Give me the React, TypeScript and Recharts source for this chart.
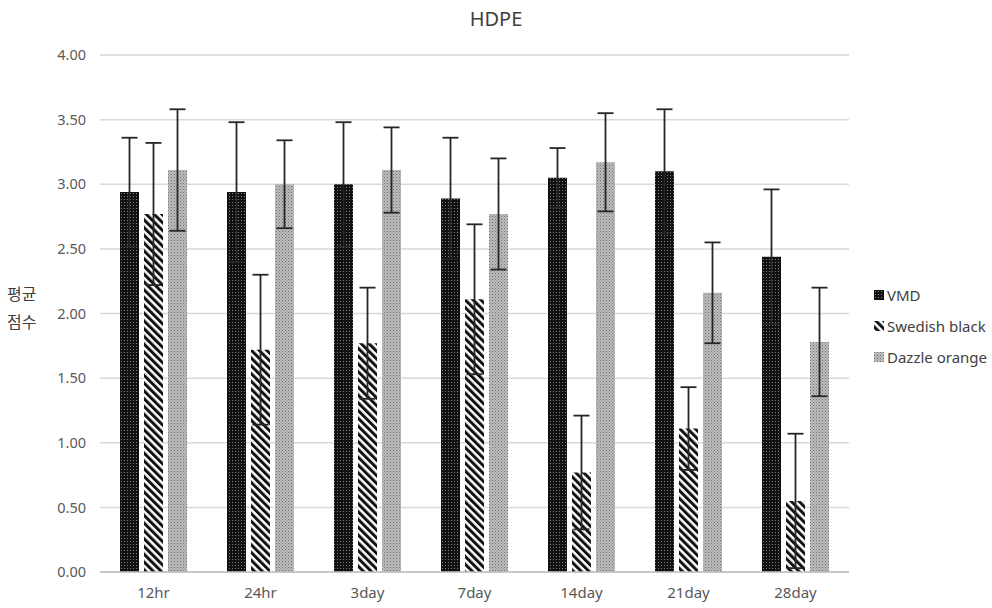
import React from 'react';
import { BarChart, Bar, XAxis, YAxis, CartesianGrid, ErrorBar, Legend } from 'recharts';

const categories = ['12hr', '24hr', '3day', '7day', '14day', '21day', '28day'];
const vmd = [2.94, 2.94, 3.0, 2.89, 3.05, 3.1, 2.44];
const vmdErr = [0.42, 0.54, 0.48, 0.47, 0.23, 0.48, 0.52];
const swedish = [2.77, 1.72, 1.77, 2.11, 0.77, 1.11, 0.55];
const swedishErr = [0.55, 0.58, 0.43, 0.58, 0.44, 0.32, 0.52];
const dazzle = [3.11, 3.0, 3.11, 2.77, 3.17, 2.16, 1.78];
const dazzleErr = [0.47, 0.34, 0.33, 0.43, 0.38, 0.39, 0.42];
const yTicks = [0, 0.5, 1, 1.5, 2, 2.5, 3, 3.5, 4];

const data = categories.map((c, i) => ({
  name: c,
  vmd: vmd[i],
  vmdErr: vmdErr[i],
  swedish: swedish[i],
  swedishErr: swedishErr[i],
  dazzle: dazzle[i],
  dazzleErr: dazzleErr[i],
}));

const FONT = '"Noto Sans", "Noto Sans CJK KR", sans-serif';

const legendItems = [
  { label: 'VMD', fill: 'url(#patVmd)' },
  { label: 'Swedish black', fill: 'url(#patSwe)' },
  { label: 'Dazzle orange', fill: 'url(#patDaz)' },
];

function LegendContent() {
  return (
    <div style={{ fontFamily: FONT, fontSize: 15, color: '#404040' }}>
      {legendItems.map((it) => (
        <div key={it.label} style={{ display: 'flex', alignItems: 'center', height: 31 }}>
          <svg width={10} height={10} style={{ marginRight: 3 }}>
            <rect x={0} y={0} width={10} height={10} fill={it.fill} />
          </svg>
          <span>{it.label}</span>
        </div>
      ))}
    </div>
  );
}

export default function App() {
  return (
    <div style={{ position: 'absolute', left: 0, top: 0, width: 992, height: 608, background: '#fff' }}>
      <div
        style={{
          position: 'absolute', left: 0, width: 992, top: 5, textAlign: 'center',
          fontFamily: FONT, fontSize: 20, color: '#404040',
        }}
      >
        HDPE
      </div>
      <div
        style={{
          position: 'absolute', left: 7, top: 280, fontFamily: FONT, fontSize: 16,
          color: '#404040', lineHeight: '28px',
        }}
      >
        평균<br />점수
      </div>
      <BarChart
        width={992}
        height={608}
        data={data}
        margin={{ top: 55, right: 25, bottom: 6, left: 0 }}
        barCategoryGap={20}
        barGap={5}
      >
        <defs>
          <pattern id="patVmd" width={3} height={3} patternUnits="userSpaceOnUse">
            <rect x={0} y={0} width={3} height={3} fill="#111" />
            <rect x={1} y={1} width={1} height={1} fill="#808080" />
          </pattern>
          <pattern id="patSwe" width={5.5} height={5.5} patternUnits="userSpaceOnUse" patternTransform="rotate(-45)">
            <rect x={0} y={0} width={5.5} height={5.5} fill="#fff" />
            <rect x={0} y={0} width={3} height={5.5} fill="#111" />
          </pattern>
          <pattern id="patDaz" width={3} height={3} patternUnits="userSpaceOnUse">
            <rect x={0} y={0} width={3} height={3} fill="#bdbdbd" />
            <rect x={0} y={0} width={1} height={1} fill="#707070" />
            <rect x={1.5} y={1.5} width={1} height={1} fill="#808080" />
          </pattern>
        </defs>
        <CartesianGrid vertical={false} stroke="#d9d9d9" strokeWidth={1.5} />
        <XAxis
          dataKey="name"
          height={30}
          tickLine={false}
          tickSize={0}
          tickMargin={15}
          axisLine={{ stroke: '#bfbfbf', strokeWidth: 1.5 }}
          tick={{ fill: '#595959', fontSize: 15, fontFamily: FONT }}
        />
        <YAxis
          width={100}
          domain={[0, 4]}
          ticks={yTicks}
          interval={0}
          axisLine={false}
          tickLine={false}
          tickSize={0}
          tickMargin={14}
          tickFormatter={(v: number) => v.toFixed(2)}
          tick={{ fill: '#595959', fontSize: 14.5, fontFamily: FONT }}
        />
        <Legend
          layout="vertical"
          align="right"
          verticalAlign="top"
          content={<LegendContent />}
          wrapperStyle={{ left: 874, top: 279, width: 118 }}
        />
        <Bar dataKey="vmd" name="VMD" fill="url(#patVmd)" isAnimationActive={false}>
          <ErrorBar dataKey="vmdErr" width={8} stroke="#262626" strokeWidth={1.8} direction="y" isAnimationActive={false} />
        </Bar>
        <Bar dataKey="swedish" name="Swedish black" fill="url(#patSwe)" isAnimationActive={false}>
          <ErrorBar dataKey="swedishErr" width={8} stroke="#262626" strokeWidth={1.8} direction="y" isAnimationActive={false} />
        </Bar>
        <Bar dataKey="dazzle" name="Dazzle orange" fill="url(#patDaz)" isAnimationActive={false}>
          <ErrorBar dataKey="dazzleErr" width={8} stroke="#262626" strokeWidth={1.8} direction="y" isAnimationActive={false} />
        </Bar>
      </BarChart>
    </div>
  );
}
